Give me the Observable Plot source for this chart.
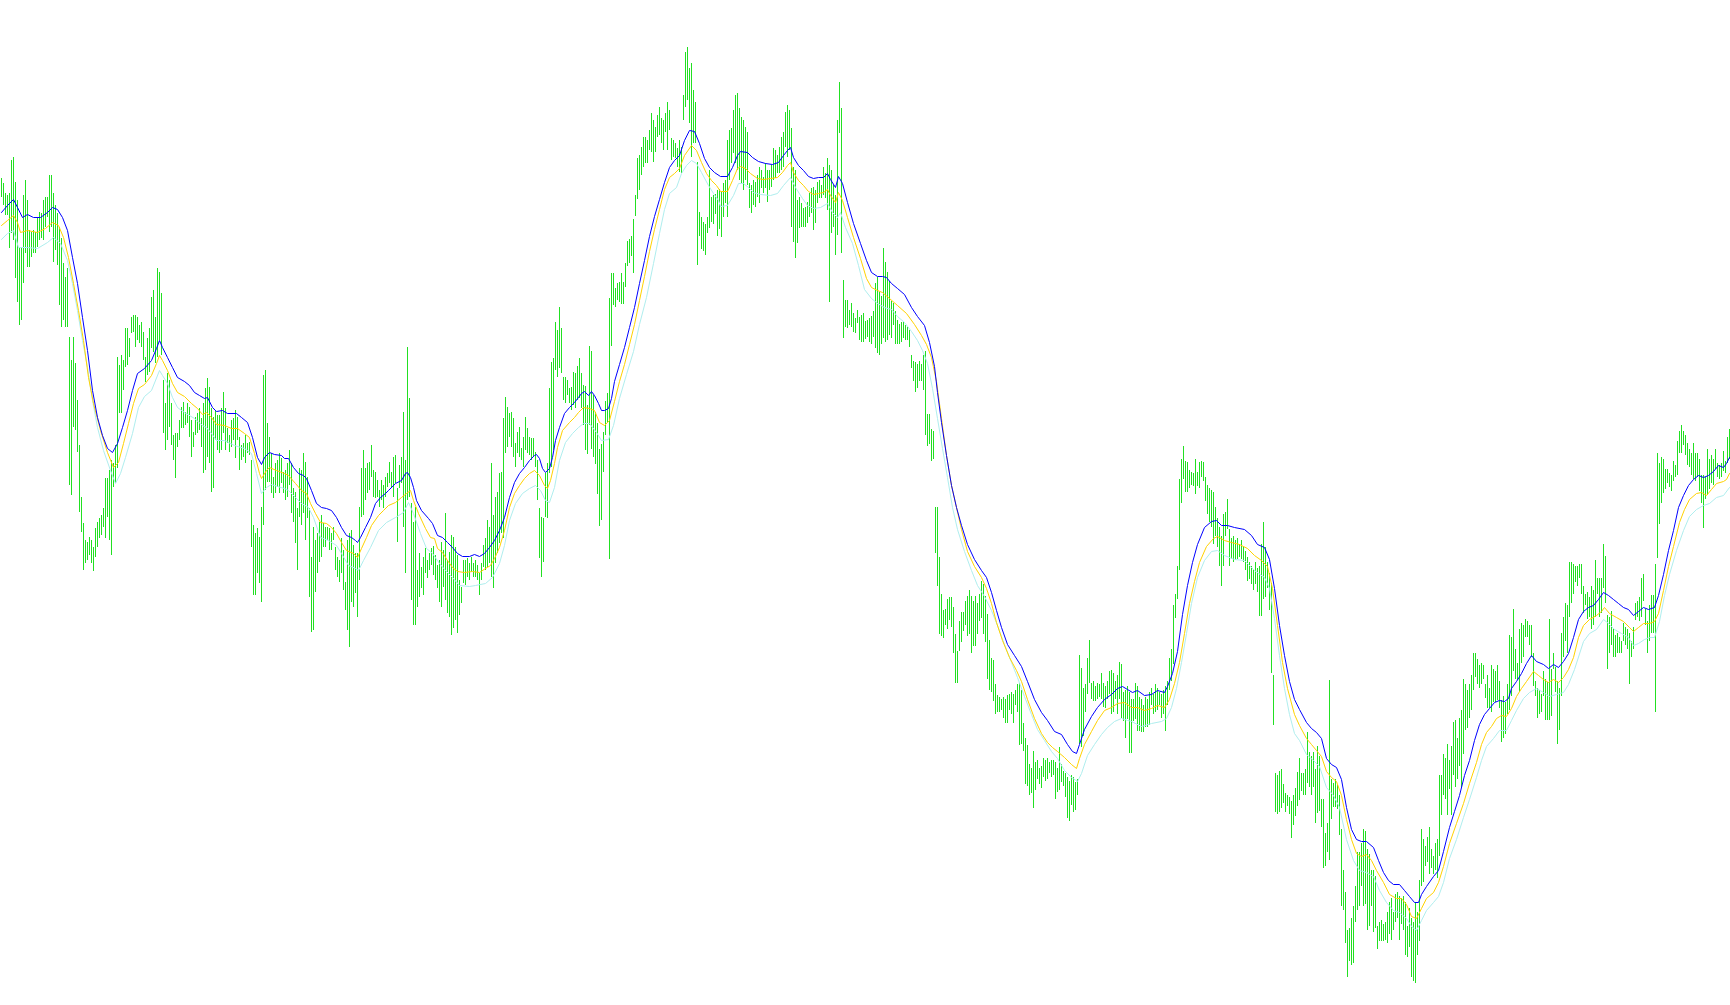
<!DOCTYPE html>
<html>
<head>
<meta charset="utf-8">
<script src="https://cdn.jsdelivr.net/npm/d3@7"></script>
<script src="https://cdn.jsdelivr.net/npm/@observablehq/plot@0.6"></script>
<style>
html, body { margin: 0; padding: 0; background: #ffffff; overflow: hidden; }
#chart svg { display: block; }
</style>
</head>
<body>
<div id="chart"></div>
<script>
// Bar highs (price units), one per bar, bar index = array position
const barHigh = [
822,817,807,805,807,840,843,818,800,753,
753,805,820,800,770,768,770,768,783,788,
787,800,803,803,825,825,807,795,787,773,
762,737,723,732,663,640,663,637,600,555,
503,477,460,458,463,460,453,472,478,482,
485,492,522,522,530,540,537,555,643,635,
645,640,672,672,662,683,685,685,683,675,
678,668,643,662,672,703,710,683,732,728,
707,620,597,627,620,597,565,567,567,580,
593,598,588,597,593,580,568,583,587,592,
582,597,612,622,613,592,583,590,585,585,
592,608,592,572,565,580,582,590,583,563,
555,557,565,557,558,540,475,467,472,463,
493,625,630,577,563,547,523,537,540,547,
542,528,530,537,550,537,512,508,492,532,
530,547,538,523,492,443,473,460,467,478,
485,477,473,473,472,467,473,453,443,440,
462,450,418,460,467,470,455,447,447,493,
532,550,532,537,538,555,530,528,520,510,
520,515,523,527,538,528,543,545,512,535,
543,588,540,653,602,497,478,493,430,447,
433,443,452,440,447,452,454,445,435,440,
458,450,487,440,448,465,463,453,445,420,
413,440,440,442,437,443,437,440,435,427,
437,455,462,480,473,537,485,503,508,527,
528,582,603,593,587,588,582,557,568,573,
552,563,583,572,563,562,562,548,540,492,
483,482,527,537,612,638,642,678,670,693,
672,623,623,620,612,613,628,627,634,642,
627,615,614,595,654,649,605,588,577,551,
556,568,599,607,702,727,727,712,717,718,
727,718,737,759,761,764,781,805,842,845,
853,863,863,860,870,887,880,873,885,893,
882,880,887,898,890,862,860,857,852,860,
853,905,948,953,932,937,910,898,838,788,
783,778,776,783,830,803,805,806,810,811,
808,817,820,860,870,872,890,905,907,892,
883,880,873,868,817,815,820,818,825,833,
830,823,837,830,830,835,852,850,845,853,
863,868,888,895,890,872,833,830,800,803,
797,792,793,798,807,812,813,810,818,820,
815,833,827,842,835,830,815,805,880,918,
892,720,700,700,690,697,687,682,690,683,
685,687,679,680,682,684,689,717,723,708,
704,752,738,728,719,699,697,689,680,676,
678,678,675,673,670,645,639,638,636,639,
636,645,649,586,586,571,569,493,493,443,
406,390,391,401,403,403,393,366,349,379,
388,388,399,404,410,404,399,404,397,406,
419,416,404,386,360,342,340,316,305,303,
301,303,301,305,306,308,306,310,316,317,
310,277,262,255,236,232,249,238,240,232,
234,242,240,242,238,240,240,238,232,253,
236,229,227,223,219,225,223,218,221,345,
332,312,316,342,360,317,319,314,317,316,
327,317,314,319,329,330,327,319,325,338,
336,308,310,314,308,301,301,317,314,303,
301,295,303,301,308,312,306,316,312,308,
306,310,314,319,342,351,395,406,434,521,
541,554,539,538,530,528,527,541,528,538,
539,538,523,515,512,510,508,493,482,473,
464,486,488,501,471,462,464,460,462,456,
460,454,449,443,438,434,430,438,432,434,
456,478,453,438,427,417,325,227,225,229,
231,216,207,205,203,199,205,212,228,242,
227,227,231,268,248,244,248,231,254,244,
201,201,167,177,320,221,217,221,215,205,
171,130,108,70,72,82,94,114,148,148,
157,171,169,151,146,130,130,124,74,78,
80,76,78,88,98,102,88,106,108,104,
102,104,98,74,92,82,78,98,88,120,
171,161,154,163,173,151,144,157,161,225,
225,246,242,256,240,254,278,280,262,282,
290,321,316,310,316,325,347,347,341,335,
337,335,316,325,312,335,331,329,335,319,
300,304,298,316,365,363,391,351,337,371,
377,375,381,379,375,375,347,319,312,310,
306,329,321,318,381,331,347,333,319,312,
367,383,397,395,438,438,436,434,434,436,
436,414,406,408,403,414,410,440,422,422,
422,456,444,385,383,389,371,365,367,363,
359,377,373,371,367,359,373,397,399,403,
422,426,391,379,395,405,405,436,547,537,
543,541,531,531,527,525,539,535,559,569,
575,569,565,557,551,547,557,547,547,541,
525,525,523,551,541,545,541,551,537,535,
537,549,539,563,571
];

// Bar lows (price units)
const barLow = [
803,795,785,785,752,767,760,722,698,675,
680,717,747,733,733,743,747,747,753,760,
762,760,773,783,768,773,738,750,735,695,
673,680,673,673,515,505,573,570,548,488,
468,430,437,440,445,437,429,443,453,462,
465,473,462,483,460,445,513,517,532,587,
587,610,633,635,643,667,668,653,660,657,
653,640,618,625,628,652,648,637,643,660,
645,567,550,560,573,555,540,522,553,560,
572,572,575,577,563,543,553,565,567,570,
553,527,530,543,537,508,512,560,550,547,
550,567,550,557,548,553,560,542,560,530,
540,543,537,547,545,453,405,405,427,417,
398,475,510,518,518,507,502,507,513,507,
517,507,500,503,515,487,478,457,430,483,
475,487,460,482,403,368,370,408,427,438,
443,453,453,460,450,450,460,430,423,418,
427,410,390,370,353,398,393,407,383,420,
483,485,500,507,510,523,503,502,503,493,
500,492,503,513,517,513,503,517,458,512,
517,473,427,500,503,400,375,375,393,403,
412,405,427,422,430,435,425,420,412,398,
393,413,400,387,383,365,372,380,367,385,
397,417,415,423,420,428,423,423,420,405,
420,433,430,433,437,423,412,437,447,457,
467,462,547,553,563,553,543,533,547,543,
540,533,550,547,545,540,543,533,500,442,
423,438,483,482,527,533,550,630,623,632,
627,600,597,605,597,590,595,592,600,602,
592,575,550,546,575,551,543,536,506,474,
480,528,565,577,441,654,695,693,700,698,
696,696,713,734,737,744,727,784,801,810,
825,833,837,837,850,848,838,848,863,865,
857,850,868,850,870,840,843,842,833,828,
827,880,893,900,877,843,857,857,735,764,
751,749,745,767,772,778,776,786,764,771,
763,783,797,783,820,837,847,837,830,820,
817,810,820,815,792,787,795,793,803,797,
812,807,812,798,810,813,820,822,827,827,
830,833,853,843,850,773,758,742,757,772,
773,773,773,777,783,787,770,777,797,802,
802,805,802,790,698,767,773,745,765,867,
747,662,673,672,675,673,668,667,677,660,
658,658,661,663,658,656,663,652,647,645,
656,662,658,660,665,662,675,656,656,656,
658,662,660,660,653,632,619,608,612,619,
619,610,565,554,556,539,541,447,414,366,
364,362,375,371,380,373,347,317,317,349,
358,369,375,364,366,347,354,354,366,379,
382,366,358,321,310,308,299,286,288,288,
290,282,277,277,290,286,277,295,288,255,
256,249,216,214,205,207,192,210,221,216,
212,223,219,221,227,223,225,201,208,210,
218,214,203,182,179,195,188,190,205,256,
253,264,288,306,317,301,299,299,301,303,
301,293,292,301,306,286,288,301,286,301,
282,279,262,281,247,247,279,281,269,269,
268,268,273,273,275,295,286,288,290,295,
282,286,269,295,310,319,336,382,401,430,
497,521,508,508,512,515,514,506,514,512,
523,519,499,486,478,473,456,464,453,434,
414,434,464,471,434,441,438,440,441,443,
441,438,430,419,421,416,410,416,408,384,
384,401,403,412,390,327,275,188,186,188,
192,197,188,194,186,162,175,184,194,200,
209,205,205,217,213,205,213,177,187,189,
173,132,134,148,140,181,193,193,191,165,
94,90,57,23,39,35,37,78,90,94,
114,94,96,70,74,94,68,72,51,59,
59,59,60,57,66,60,70,78,82,60,
76,70,45,43,53,23,19,17,45,59,
114,118,134,138,126,132,126,130,122,144,
185,205,201,185,211,185,225,213,221,234,
213,246,270,272,282,290,310,323,316,312,
316,321,302,292,292,288,298,298,300,292,
258,262,266,286,290,304,329,321,320,308,
337,343,363,363,355,343,314,304,282,286,
288,304,280,280,280,284,331,308,256,270,
304,343,359,347,383,397,406,418,414,422,
406,387,395,381,383,371,375,383,406,383,
387,412,397,331,347,355,343,343,347,347,
347,359,355,351,316,343,351,380,383,379,
383,399,375,347,359,367,367,288,442,476,
497,507,511,517,513,509,519,523,525,547,
547,555,545,535,533,525,521,519,523,509,
497,472,501,505,511,517,515,531,523,521,
523,529,527,537,541
];

// Blue average line: [bar index, price]
const blueLine = [
[0,788],[3,795],[6,801],[8,793],[10.5,783],[13,786],[16,783],[19.5,783],[23,788],[25.5,793],
[28,791],[30.5,783],[33,770],[35.5,743],[38,717],[40.5,683],[43,650],[45.5,610],[48,583],[50.5,565],
[53,552],[55.5,548],[58,557],[60.5,573],[63,590],[65.5,610],[68,627],[71.5,632],[75,640],[77.5,652],
[79,660],[80.5,653],[83,643],[85.5,633],[88,623],[91.5,619],[94,615],[96.5,608],[99,605],[101.5,602],
[103,603],[105.5,593],[107.5,589],[110.5,590],[113,587],[117.5,587],[120,583],[123,578],[125.5,563],[128,543],
[130,536],[131.5,543],[134,548],[136.5,546],[140,545],[141.5,542],[143.5,542],[146,533],[148.5,527],[151,525],
[152.5,522],[155,510],[157.5,497],[160,493],[162.5,492],[165,490],[167.5,483],[170,473],[172.5,465],[175,463],
[177,460],[178,458],[179.5,463],[182,473],[184.5,483],[187,497],[189.5,503],[192,507],[193.5,510],[197,517],
[200,520],[202,527],[203,528],[204.5,523],[206,513],[207.5,500],[210,490],[213.5,482],[215.5,477],[218,465],
[220.5,463],[223,458],[225.5,453],[228,447],[230.5,444],[234,444],[236.5,446],[239,444],[241.5,447],[244,453],
[246.5,460],[249,470],[251.5,483],[254,503],[256.5,518],[259,527],[261.5,533],[264,540],[266.5,545],[267.5,546],
[269,542],[270.5,532],[272,528],[274,532],[275.5,543],[277,560],[279,573],[281.5,587],[284,593],[286.5,598],
[288.5,603],[290,607],[291.5,609],[293.5,605],[295,609],[296.5,605],[298.5,597],[300,590],[301.5,590],[303.5,592],
[305,602],[306.5,619],[309,636],[311.5,653],[314,673],[316.5,693],[319,717],[321.5,740],[324,764],[326.5,784],
[329,801],[331.5,818],[334,833],[336.5,840],[339,845],[341.5,860],[344,870],[346.5,869],[349,857],[351.5,842],
[354,833],[356.5,828],[359.5,824],[363,824],[365.5,833],[368,845],[369.5,849],[373,848],[375.5,843],[378.5,839],
[382,837],[385.5,836],[388.5,838],[391,845],[393,850],[394.5,853],[396,843],[398.5,835],[401,830],[403.5,824],
[406,822],[408.5,823],[411,823],[413,827],[414.5,821],[417,813],[418.5,824],[420.5,817],[423,798],[426,777],
[429.5,757],[432.5,740],[435,728],[438,724],[440.5,724],[442.5,723],[445,717],[448,712],[451.5,706],[455,693],
[458,684],[461.5,675],[464,658],[466.5,634],[468,608],[470,578],[472.5,545],[475,515],[477.5,493],[480,475],
[483,456],[486.5,441],[490,430],[492.5,423],[495,408],[497.5,390],[500,373],[503,356],[506.5,345],[510,334],
[513,319],[516.5,301],[520,288],[523,280],[526.5,269],[530,266],[533,256],[535.5,249],[537.5,247],[539,256],
[541.5,271],[545,284],[548,293],[551.5,301],[555,306],[558,312],[560.5,314],[563,311],[565.5,308],[568,310],
[571.5,305],[575,306],[578,310],[581.5,308],[583,314],[585.5,327],[588,349],[590.5,386],[593,415],[595.5,438],
[598,456],[601.5,473],[605,479],[607.5,480],[610,475],[613,475],[616.5,473],[621.5,471],[625,465],[628,456],
[631.5,453],[634,441],[636.5,412],[639,375],[641.5,345],[644,319],[646.5,301],[649,291],[652.5,278],[655,272],
[657.5,268],[660,262],[662.5,242],[665,236],[667.5,233],[670,221],[672.5,193],[675,171],[677.5,161],[680,159],
[682.5,159],[686,153],[688.5,140],[691,128],[693.5,120],[696,116],[699,116],[701.5,110],[704,104],[706.5,98],
[708.5,98],[710,106],[712.5,114],[716,124],[718.5,130],[721,149],[724,173],[726.5,189],[729,205],[731.5,225],
[734,240],[736.5,260],[739,276],[741.5,286],[744,292],[746.5,298],[749,300],[751.5,299],[753.5,302],[755,312],
[757.5,319],[760,327],[762.5,337],[765,345],[767.5,339],[771,336],[773.5,332],[776,336],[778.5,333],[781,339],
[783.5,347],[786,363],[788.5,381],[791,389],[793.5,393],[796,395],[798.5,401],[801,408],[803.5,405],[806,401],
[808.5,397],[811,393],[813.5,391],[816,385],[818.5,389],[821,393],[823.5,391],[826.5,393],[828.5,405],[831,426],
[833.5,450],[836,470],[838.5,493],[841,505],[843.5,515],[846,521],[848.5,525],[851,523],[853.5,525],[856,529],
[858.5,535],[861,533],[862.5,537],[864,543]
];

// Gold average line
const goldLine = [
[0,775],[3,780],[6,785],[8,778],[9.5,768],[13,770],[18,768],[22,772],[25.5,778],[28.5,775],
[31,763],[33.5,743],[36,717],[38.5,690],[41,660],[43.5,623],[46,597],[49.5,570],[53,548],[56,533],
[58.5,538],[61,557],[63.5,577],[66,597],[68.5,612],[71.5,616],[75,625],[77.5,637],[79,645],[80.5,640],
[83,630],[85.5,617],[88,608],[91.5,604],[95,597],[98,592],[100.5,586],[102.5,588],[105,583],[107.5,576],
[111.5,575],[115,572],[118,572],[121.5,567],[124,563],[126.5,547],[129,527],[130,522],[132.5,530],[134,533],
[137.5,530],[141.5,527],[143.5,525],[147,517],[150,510],[152.5,507],[154.5,497],[157,487],[159.5,478],[162.5,477],
[165,473],[167.5,467],[170,458],[172.5,450],[176,447],[178,443],[180,452],[182.5,463],[185,475],[188.5,485],
[191,490],[193.5,495],[197,498],[200,503],[202.5,507],[204.5,510],[206,500],[208.5,487],[212,472],[214.5,463],
[216.5,462],[218,452],[220.5,448],[223,440],[225.5,433],[228,429],[231.5,428],[235.5,429],[239,428],[242,432],
[244.5,435],[246.5,442],[249,453],[251.5,470],[254,493],[256.5,507],[259,515],[261.5,522],[264,527],[266.5,530],
[269,525],[271.5,515],[273,512],[274.5,520],[276.5,537],[278,553],[280.5,570],[284,578],[286.5,583],[288.5,588],
[291,593],[294,592],[296.5,590],[299,578],[301.5,575],[304,580],[306.5,599],[309,619],[311.5,636],[314,656],
[316.5,676],[319,700],[321.5,724],[324,749],[326.5,771],[329,791],[331.5,811],[334,823],[336.5,827],[339,832],
[341.5,845],[345,855],[347.5,850],[350,838],[352.5,827],[355,820],[357.5,815],[359.5,809],[363,809],[365.5,820],
[368,832],[369.5,834],[372,832],[374.5,827],[378,822],[381,821],[384.5,822],[388,823],[390.5,828],[393,835],
[394.5,838],[396,828],[398.5,820],[401,815],[403.5,809],[406,806],[408.5,807],[411,808],[413,811],[414.5,805],
[417,798],[418.5,808],[420.5,800],[423,783],[426,763],[429.5,742],[432.5,722],[435,713],[438,710],[440.5,708],
[444,702],[448,695],[452.5,687],[456.5,676],[460,665],[462.5,656],[465,643],[467.5,619],[470,582],[472.5,545],
[475,515],[477.5,493],[480,471],[483,449],[486.5,434],[490,423],[492.5,412],[495,397],[497.5,378],[500.5,360],
[504,343],[507.5,330],[510,319],[513,301],[516.5,282],[520,267],[523,258],[525.5,253],[528,249],[531.5,243],
[535,236],[537.5,232],[539,242],[541.5,256],[545,269],[548,280],[551.5,290],[555,293],[558,297],[561.5,298],
[565,293],[568,293],[571.5,290],[575,292],[578,295],[581.5,293],[584,301],[586.5,317],[589,338],[591.5,367],
[594,397],[596.5,419],[599,438],[602.5,454],[606,462],[608,464],[611.5,460],[615,458],[619,456],[623,452],
[626.5,445],[630,440],[633,434],[635.5,412],[638,375],[640.5,338],[643,312],[646.5,286],[649,275],[652.5,262],
[655,256],[657.5,250],[660,244],[662.5,229],[665,223],[667.5,219],[670,205],[672.5,181],[675,161],[677.5,147],
[680,144],[682.5,146],[685,140],[687.5,130],[691,118],[694,106],[697.5,102],[700,102],[702.5,96],[705,84],
[707.5,82],[710,92],[712.5,102],[716,108],[718.5,118],[721,134],[724,157],[727.5,177],[731,197],[734,217],
[737.5,238],[740,256],[742.5,268],[745,274],[747.5,282],[750,285],[752.5,284],[755,292],[757.5,304],[760,312],
[762.5,319],[766,329],[768.5,325],[771,321],[773.5,318],[776,321],[778.5,318],[781,323],[783.5,331],[786,343],
[788.5,363],[791,375],[794,381],[797.5,385],[800,389],[801.5,393],[804,387],[807.5,383],[811,379],[814,373],
[816,369],[818.5,373],[821,377],[824,377],[826.5,379],[828.5,387],[831,410],[833.5,434],[836,454],[839,478],
[841.5,491],[844,501],[847.5,507],[850,508],[852.5,505],[855,511],[857.5,517],[861,519],[862.5,521],[864,527]
];

// Pale turquoise average line
const paleLine = [
[0,761],[3,767],[6,770],[8.5,753],[13,753],[18,752],[23,758],[26,763],[29.5,757],[33,740],
[35.5,717],[38,690],[40.5,660],[43,633],[45.5,600],[48,573],[51,550],[54.5,530],[57,517],[59.5,527],
[62,543],[65.5,567],[68.5,593],[71.5,604],[75,610],[79,630],[80.5,625],[83,617],[85.5,603],[88,593],
[91.5,588],[96.5,582],[100.5,575],[102.5,573],[105,567],[107.5,560],[111.5,560],[116.5,555],[121.5,552],[125,547],
[127.5,527],[130,507],[132.5,513],[135,516],[138,514],[141.5,512],[143.5,510],[147,503],[150,497],[153.5,493],
[156,483],[159.5,463],[163.5,460],[167.5,455],[170,447],[173.5,435],[177,432],[178.5,430],[181,440],[184.5,453],
[188.5,470],[192.5,478],[197,483],[201,488],[203.5,498],[206,487],[209.5,467],[212.5,452],[215.5,447],[219,437],
[222,430],[225.5,423],[229,415],[234,414],[237,415],[242,417],[245.5,423],[249,437],[251.5,455],[254,480],
[257,497],[260.5,507],[264,512],[267,515],[269.5,510],[272,500],[274,498],[276.5,513],[279,540],[282,558],
[285.5,567],[288.5,573],[291,577],[294,577],[297.5,568],[300,560],[303.5,561],[306,575],[309,602],[312.5,626],
[316,649],[319,676],[322.5,703],[326,737],[329,767],[331.5,791],[334,807],[337.5,813],[340,827],[342.5,835],
[345,840],[347.5,837],[350,828],[353.5,815],[356,807],[358.5,800],[359.5,794],[363,795],[366,805],[368.5,817],
[371,817],[373.5,813],[376,808],[379.5,806],[384.5,805],[388,807],[391,815],[394.5,823],[397,813],[400.5,802],
[403,795],[406,792],[409.5,793],[413,797],[415.5,788],[418,783],[419.5,788],[422,773],[425.5,757],[428.5,735],
[431.5,711],[435,702],[438,697],[441.5,693],[445,691],[448,684],[451.5,678],[455,669],[458,660],[460.5,650],
[463,637],[465.5,612],[468,582],[470.5,552],[473,523],[475.5,493],[478,471],[481.5,449],[485,430],[488,415],
[491.5,404],[495,390],[498,375],[501.5,356],[505,338],[508,323],[511.5,304],[515,286],[518,271],[521.5,260],
[525,249],[528,242],[531.5,230],[535,223],[538,219],[540,227],[543,245],[546.5,256],[550,266],[553,273],
[556.5,279],[560,282],[565,279],[570,274],[575,277],[580,279],[582.5,282],[585,293],[587.5,312],[590,338],
[592.5,367],[595,397],[598,423],[601.5,440],[605,449],[608,450],[611.5,445],[616.5,441],[621.5,440],[626.5,430],
[631.5,423],[634,412],[636.5,382],[639,345],[641.5,312],[644,286],[646.5,267],[649,260],[652.5,246],[656,240],
[659,234],[662.5,213],[666,205],[669,193],[672.5,161],[676,140],[679,130],[682.5,128],[686,124],[689,110],
[692.5,98],[696,90],[699,88],[702.5,82],[705,74],[707.5,70],[710,80],[712.5,90],[716,98],[718.5,104],
[721,118],[724,142],[727.5,161],[731,183],[734,201],[737.5,223],[740,240],[742.5,254],[746,262],[749,270],
[752.5,270],[755,280],[757.5,290],[761,302],[764,308],[767.5,312],[771,308],[774,304],[777.5,306],[781,308],
[783.5,316],[786.5,331],[791,359],[794,367],[797.5,371],[801,381],[803.5,377],[806.5,371],[810,367],[813.5,363],
[816,355],[818.5,357],[821.5,361],[824,363],[826.5,363],[829,379],[831.5,405],[834,426],[837.5,450],[841,470],
[844,484],[847.5,491],[851,495],[854,497],[857.5,503],[861,505],[864,513]
];

const barColor = "#22e022";
const blueColor = "#0000ff";
const goldColor = "#ffd200";
const paleColor = "#afeeee";

const n = Math.min(barHigh.length, barLow.length);
const bars = [];
for (let i = 0; i < n; i++) bars.push({i, high: barHigh[i], low: barLow[i]});

const toRows = arr => arr.map(([t, v]) => ({t, v}));

const chart = Plot.plot({
  width: 1730,
  height: 1005,
  margin: 0,
  x: {type: "linear", domain: [-0.5, 864.5], axis: null},
  y: {type: "linear", domain: [-5, 1000], axis: null},
  style: {background: "#ffffff", overflow: "visible"},
  marks: [
    Plot.ruleX(bars, {x: "i", y1: "low", y2: "high", stroke: barColor, strokeWidth: 1, shapeRendering: "crispEdges"}),
    Plot.line(toRows(paleLine), {x: "t", y: "v", stroke: paleColor, strokeWidth: 1, curve: "linear"}),
    Plot.line(toRows(goldLine), {x: "t", y: "v", stroke: goldColor, strokeWidth: 1, curve: "linear"}),
    Plot.line(toRows(blueLine), {x: "t", y: "v", stroke: blueColor, strokeWidth: 1, curve: "linear"})
  ]
});
document.getElementById("chart").appendChild(chart);
</script>
</body>
</html>
